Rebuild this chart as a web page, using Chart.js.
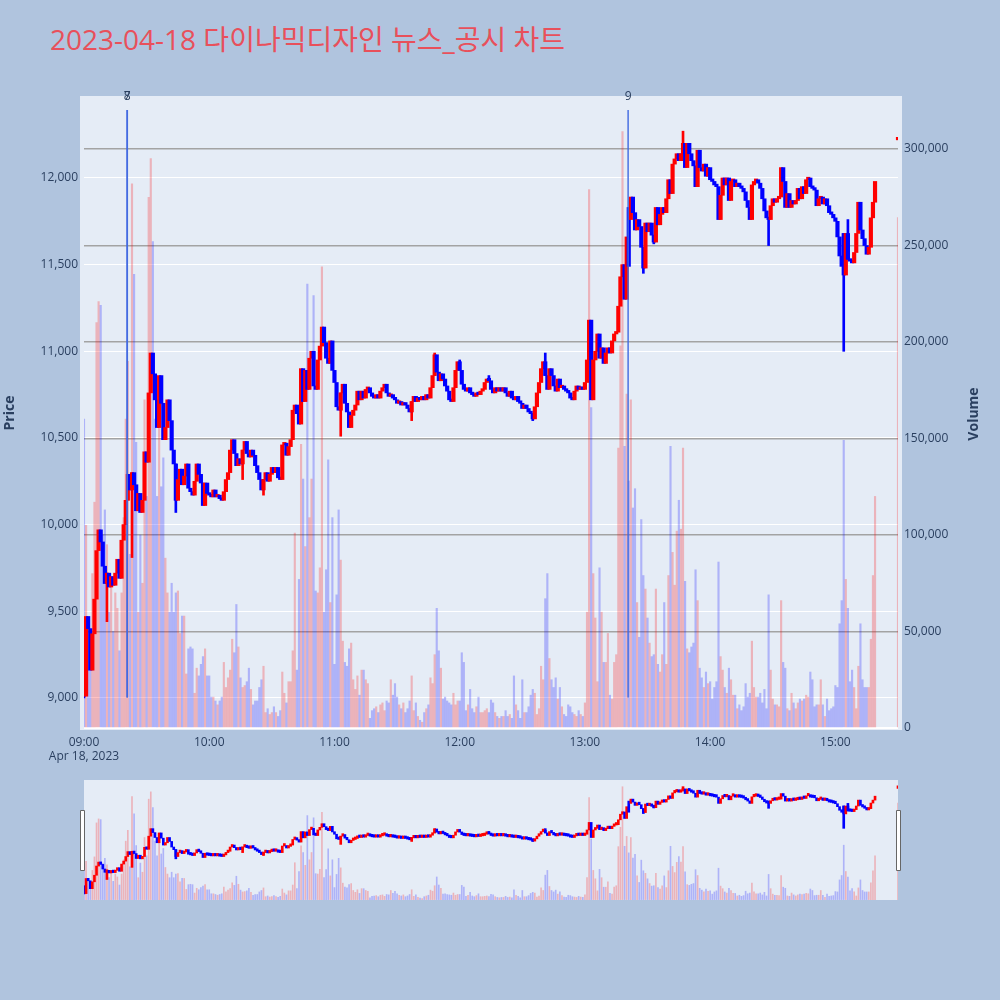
<!DOCTYPE html>
<html>
<head>
<meta charset="utf-8">
<script src="https://cdn.jsdelivr.net/npm/chart.js"></script>
<style>
  body { margin: 0; background: #b0c4de; }
  #wrap { position: relative; width: 1000px; height: 1000px; }
  #title { position: absolute; left: 50px; top: 18px; font-family: 'Open Sans', 'Noto Sans CJK KR', sans-serif; font-size: 28px; color: #e8505b; white-space: nowrap; }
  canvas { position: absolute; left: 0; }
</style>
</head>
<body>
<div id="wrap">
  <div id="title">2023-04-18 다이나믹디자인 뉴스_공시 차트</div>
  <canvas id="main" width="1000" height="780" style="top:0"></canvas>
  <canvas id="slider" width="1000" height="140" style="top:770px"></canvas>
</div>
<script>
// 1-minute candles, index = minutes after 09:00
const opens = [
  9240, 9010, 9470, 9400, 9160, 9370, 9570, 9850, 9970, 9900,        // 09:00
  9760, 9660, 9720, 9640, 9700, 9650, 9720, 9800, 9690, 9910,
  10000, 10140, 10290, 10200, 10300, 10230, 10080, 10180, 10070, 10140,
  10420, 10360, 10760, 10990, 10870, 10720, 10560, 10860, 10700, 10490,
  10560, 10720, 10600, 10430, 10350, 10140, 10260, 10320, 10230, 10280,
  10350, 10210, 10190, 10170, 10250, 10350, 10290, 10240, 10110, 10240,
  10180, 10170, 10160, 10200, 10160, 10170, 10150, 10140, 10190, 10260, // 10:00
  10300, 10430, 10490, 10410, 10340, 10380, 10350, 10430, 10480, 10410,
  10390, 10430, 10400, 10340, 10300, 10260, 10200, 10260, 10300, 10250,
  10290, 10330, 10300, 10330, 10270, 10260, 10460, 10470, 10400, 10450,
  10490, 10660, 10690, 10640, 10580, 10900, 10710, 10890, 10780, 10960,
  11000, 10800, 10780, 10950, 11030, 11140, 11050, 10960, 10930, 11060,
  10890, 10820, 10680, 10660, 10760, 10810, 10700, 10650, 10560, 10630, // 11:00
  10660, 10690, 10770, 10720, 10770, 10730, 10780, 10790, 10760, 10740,
  10730, 10750, 10730, 10770, 10790, 10810, 10760, 10740, 10750, 10730,
  10720, 10700, 10710, 10690, 10700, 10690, 10670, 10650, 10710, 10740,
  10710, 10730, 10720, 10740, 10720, 10750, 10730, 10790, 10860, 10980,
  10880, 10830, 10870, 10840, 10800, 10770, 10720, 10710, 10790, 10890,
  10940, 10890, 10810, 10780, 10770, 10790, 10760, 10750, 10740, 10760, // 12:00
  10750, 10770, 10780, 10820, 10840, 10830, 10780, 10760, 10790, 10770,
  10790, 10770, 10790, 10760, 10740, 10770, 10730, 10720, 10740, 10710,
  10700, 10670, 10690, 10670, 10650, 10640, 10610, 10680, 10760, 10820,
  10900, 10940, 10860, 10780, 10900, 10860, 10800, 10770, 10840, 10790,
  10800, 10780, 10770, 10760, 10730, 10720, 10770, 10800, 10780, 10790,
  10780, 10820, 10950, 11180, 10720, 10950, 11000, 11100, 10960, 11020, // 13:00
  10930, 10990, 11020, 10990, 11060, 11100, 11110, 11260, 11430, 11500,
  11300, 11830, 11760, 11890, 11800, 11700, 11760, 11720, 11600, 11480,
  11740, 11690, 11740, 11670, 11630, 11830, 11730, 11790, 11830, 11800,
  11880, 11990, 11910, 12080, 12110, 12140, 12100, 12140, 12200, 12060,
  12200, 12140, 12100, 12070, 11950, 12160, 12060, 12040, 12080, 12010,
  12060, 11990, 11980, 11960, 11950, 11760, 11900, 12000, 11960, 12000, // 14:00
  11870, 11980, 11990, 11950, 11970, 11950, 11940, 11920, 11870, 11830,
  11760, 11960, 11980, 11990, 11970, 11940, 11880, 11810, 11770, 11760,
  11840, 11880, 11860, 11880, 11890, 12060, 11980, 11830, 11910, 11830,
  11870, 11850, 11870, 11940, 11880, 11950, 11910, 11990, 12000, 11950,
  11940, 11930, 11840, 11880, 11890, 11850, 11880, 11840, 11800, 11790,
  11770, 11750, 11660, 11550, 11680, 11440, 11680, 11530, 11520, 11510, // 15:00
  11570, 11680, 11860, 11700, 11650, 11610, 11560, 11600, 11770, 11860
];
const closes = [
  9010, 9470, 9400, 9160, 9370, 9570, 9850, 9970, 9900, 9760,
  9660, 9720, 9640, 9700, 9650, 9720, 9800, 9690, 9910, 10000,
  10140, 10290, 10200, 10300, 10230, 10080, 10180, 10070, 10140, 10420,
  10360, 10760, 10990, 10870, 10720, 10560, 10860, 10700, 10490, 10560,
  10720, 10600, 10430, 10350, 10140, 10260, 10320, 10230, 10280, 10350,
  10210, 10190, 10170, 10250, 10350, 10290, 10240, 10110, 10240, 10180,
  10170, 10160, 10200, 10160, 10170, 10150, 10140, 10190, 10260, 10300,
  10430, 10490, 10410, 10340, 10380, 10350, 10430, 10480, 10410, 10390,
  10430, 10400, 10340, 10300, 10260, 10200, 10260, 10300, 10250, 10290,
  10330, 10300, 10330, 10270, 10260, 10460, 10470, 10400, 10450, 10490,
  10660, 10690, 10640, 10580, 10900, 10710, 10890, 10780, 10960, 11000,
  10800, 10780, 10950, 11030, 11140, 11050, 10960, 10930, 11060, 10890,
  10820, 10680, 10660, 10760, 10810, 10700, 10650, 10560, 10630, 10660,
  10690, 10770, 10720, 10770, 10730, 10780, 10790, 10760, 10740, 10730,
  10750, 10730, 10770, 10790, 10810, 10760, 10740, 10750, 10730, 10720,
  10700, 10710, 10690, 10700, 10690, 10670, 10650, 10710, 10740, 10710,
  10730, 10720, 10740, 10720, 10750, 10730, 10790, 10860, 10980, 10880,
  10830, 10870, 10840, 10800, 10770, 10720, 10710, 10790, 10890, 10940,
  10890, 10810, 10780, 10770, 10790, 10760, 10750, 10740, 10760, 10750,
  10770, 10780, 10820, 10840, 10830, 10780, 10760, 10790, 10770, 10790,
  10770, 10790, 10760, 10740, 10770, 10730, 10720, 10740, 10710, 10700,
  10670, 10690, 10670, 10650, 10640, 10610, 10680, 10760, 10820, 10900,
  10940, 10860, 10780, 10900, 10860, 10800, 10770, 10840, 10790, 10800,
  10780, 10770, 10760, 10730, 10720, 10770, 10800, 10780, 10790, 10780,
  10820, 10950, 11180, 10720, 10950, 11000, 11100, 10960, 11020, 10930,
  10990, 11020, 10990, 11060, 11100, 11110, 11260, 11430, 11500, 11300,
  11660, 11490, 11890, 11800, 11700, 11760, 11720, 11600, 11480, 11740,
  11690, 11740, 11670, 11630, 11830, 11730, 11790, 11830, 11800, 11880,
  11990, 11910, 12080, 12110, 12140, 12100, 12140, 12200, 12060, 12200,
  12140, 12100, 12070, 11950, 12160, 12060, 12040, 12080, 12010, 12060,
  11990, 11980, 11960, 11950, 11760, 11900, 12000, 11960, 12000, 11870,
  11980, 11990, 11950, 11970, 11950, 11940, 11920, 11870, 11830, 11760,
  11960, 11980, 11990, 11970, 11940, 11880, 11810, 11770, 11760, 11840,
  11880, 11860, 11880, 11890, 12060, 11980, 11830, 11910, 11830, 11870,
  11850, 11870, 11940, 11880, 11950, 11910, 11990, 12000, 11950, 11940,
  11930, 11840, 11880, 11890, 11850, 11880, 11840, 11800, 11790, 11770,
  11750, 11660, 11550, 11490, 11440, 11680, 11530, 11520, 11510, 11570,
  11680, 11860, 11700, 11650, 11610, 11560, 11600, 11770, 11860, 11980
];
const volumes = [
  160000, 105000, 55000, 40000, 80000, 117000, 210000, 221000, 219000, 100000,
  113000, 95000, 60000, 75000, 50000, 70000, 62000, 40000, 70000, 109000,
  160000, 190000, 90000, 282000, 235000, 148000, 60000, 100000, 75000, 170000,
  120000, 275000, 295000, 252000, 160000, 120000, 165000, 125000, 140000, 88000,
  70000, 60000, 75000, 60000, 70000, 71000, 49000, 58000, 58000, 28000,
  41000, 42000, 41000, 18000, 31000, 27000, 33000, 37000, 41000, 27000,
  27000, 16000, 16000, 14000, 12000, 14000, 16000, 34000, 21000, 26000,
  30000, 46000, 39000, 64000, 42000, 26000, 21000, 22000, 24000, 31000,
  20000, 12000, 14000, 14000, 21000, 25000, 32000, 8000, 10000, 7000,
  8000, 11000, 8000, 6000, 9000, 29000, 18000, 13000, 24000, 24000,
  40000, 101000, 30000, 77000, 147000, 129000, 94000, 230000, 109000, 129000,
  224000, 71000, 70000, 83000, 239000, 60000, 82000, 139000, 65000, 109000,
  33000, 69000, 113000, 87000, 45000, 34000, 32000, 41000, 44000, 25000,
  20000, 27000, 17000, 30000, 30000, 25000, 23000, 5000, 9000, 10000,
  11000, 8000, 12000, 13000, 9000, 14000, 13000, 25000, 17000, 23000,
  16000, 12000, 10000, 13000, 8000, 10000, 14000, 27000, 9000, 13000,
  6000, 4000, 3000, 8000, 10000, 12000, 26000, 23000, 38000, 62000,
  40000, 31000, 15000, 16000, 14000, 13000, 12000, 18000, 12000, 14000,
  14000, 39000, 34000, 9000, 12000, 20000, 10000, 8000, 11000, 16000,
  8000, 8000, 9000, 10000, 8000, 14500, 13000, 8000, 6000, 5000,
  6000, 6000, 9000, 6000, 7000, 5000, 27000, 12000, 9000, 5000,
  25000, 8000, 8000, 11000, 17000, 20000, 18000, 7000, 10000, 32000,
  25000, 67000, 80000, 36000, 25000, 21000, 26000, 15000, 21000, 11000,
  7000, 6000, 12000, 11000, 8000, 7000, 6000, 9000, 7000, 6000,
  13000, 60000, 279000, 166000, 80000, 57000, 24000, 83000, 60000, 34000,
  34000, 49000, 17000, 15000, 34000, 38000, 145000, 198000, 309000, 146000,
  173000, 128000, 170000, 114000, 124000, 65000, 47000, 108000, 79000, 72000,
  57000, 44000, 37000, 38000, 72000, 33000, 29000, 38000, 65000, 33000,
  79000, 146000, 91000, 74000, 102000, 118000, 103000, 145000, 76000, 41000,
  39000, 42000, 44000, 82000, 66000, 31000, 26000, 21000, 29000, 23000,
  24000, 15000, 21000, 24000, 86000, 37000, 30000, 21000, 18000, 31000,
  25000, 17000, 17000, 10000, 12000, 9000, 11000, 23000, 16000, 18000,
  45000, 21000, 16000, 16000, 18000, 13000, 20000, 10000, 69000, 30000,
  15000, 12000, 12000, 11000, 66000, 34000, 31000, 10000, 9000, 18000,
  13000, 10000, 13000, 15000, 14000, 15000, 17000, 16000, 29000, 25000,
  11000, 12000, 12000, 25000, 12000, 6000, 15000, 9000, 10000, 11000,
  22000, 21000, 54000, 66000, 149000, 77000, 62000, 24000, 30000, 21000,
  10000, 32000, 54000, 25000, 21000, 21000, 21000, 46000, 79000, 120000
];
// candles with visible shadows beyond the body
const wickMinutes = [0, 11, 23, 44, 76, 86, 123, 157, 168, 180, 194, 215, 221, 268, 273, 287, 328, 364, 366];
const wickLows  = [9000, 9440, 9810, 10070, 10260, 10170, 10510, 10600, 10860, 10890, 10830, 10600, 10860, 11450, 11620, 12140, 11610, 11000, 11530];
const wickHighs = [9250, 9720, 10300, 10350, 10430, 10260, 10760, 10710, 10990, 10950, 10860, 10640, 10990, 11600, 11670, 12270, 11770, 11680, 11760];
// 15:30 closing auction
const auctionMinutes = [390];
const auctionOpens = [12220];
const auctionCloses = [12230];
const auctionVolumes = [264500];
// news / disclosure markers
const newsMinutes = [20.7, 20.7, 260.7];
const newsLabels = ['7', '8', '9'];
const newsLineRange = [9005, 12390];

const timeTicks = [0, 60, 120, 180, 240, 300, 360];
const timeLabels = ['09:00', '10:00', '11:00', '12:00', '13:00', '14:00', '15:00'];
const priceTicks = [9000, 9500, 10000, 10500, 11000, 11500, 12000];
const volumeTicks = [0, 50000, 100000, 150000, 200000, 250000, 300000];

const UP = '#ff0000', DOWN = '#0000ff';
const UP_VOL = 'rgba(255,0,0,0.24)', DOWN_VOL = 'rgba(0,0,255,0.24)';
const FONT_COLOR = '#2a3f5f';
Chart.defaults.font.family = "'Open Sans', sans-serif";
Chart.defaults.font.size = 12;
Chart.defaults.color = FONT_COLOR;

const allMinutes = opens.map((_, i) => i).concat(auctionMinutes);
const allOpens = opens.concat(auctionOpens);
const allCloses = closes.concat(auctionCloses);
const allVolumes = volumes.concat(auctionVolumes);
const isUp = allMinutes.map((_, i) => allCloses[i] >= allOpens[i]);

function buildDatasets(bodyWidth, volWidth, withNews) {
  const sets = [
    {
      label: 'Volume', yAxisID: 'yv', order: 3, grouped: false,
      data: allMinutes.map((m, i) => ({ x: m, y: allVolumes[i] })),
      backgroundColor: isUp.map(u => u ? UP_VOL : DOWN_VOL),
      barThickness: volWidth
    },
    {
      label: 'Wick', yAxisID: 'y', order: 2, grouped: false,
      data: wickMinutes.map((m, i) => ({ x: m, y: [wickLows[i], wickHighs[i]] })),
      backgroundColor: wickMinutes.map(m => isUp[m] ? UP : DOWN),
      barThickness: 2
    },
    {
      label: 'Price', yAxisID: 'y', order: 1, grouped: false,
      data: allMinutes.map((m, i) => ({ x: m, y: [allOpens[i], allCloses[i]] })),
      backgroundColor: isUp.map(u => u ? UP : DOWN),
      barThickness: bodyWidth, minBarLength: 2.5
    }
  ];
  if (withNews) {
    sets.push({
      label: 'News', yAxisID: 'y', order: 0, grouped: false,
      data: newsMinutes.map(m => ({ x: m, y: newsLineRange })),
      backgroundColor: 'rgba(65,105,225,0.85)',
      barThickness: 1
    });
  }
  return sets;
}

const fixTicks = list => axis => { axis.ticks = list.map(v => ({ value: v })); };

const plotBg = {
  id: 'plotBg',
  beforeDraw(chart, args, opts) {
    const { ctx } = chart;
    ctx.save();
    ctx.fillStyle = '#e5ecf6';
    ctx.fillRect(opts.x0, opts.y0, opts.x1 - opts.x0, opts.y1 - opts.y0);
    ctx.restore();
  }
};

const mainLabels = {
  id: 'mainLabels',
  afterDraw(chart) {
    const { ctx } = chart;
    const xs = chart.scales.x;
    ctx.save();
    ctx.fillStyle = FONT_COLOR;
    ctx.font = "12px 'Open Sans', sans-serif";
    ctx.textAlign = 'center';
    ctx.textBaseline = 'middle';
    newsMinutes.forEach((m, i) => ctx.fillText(newsLabels[i], xs.getPixelForValue(m), 97));
    ctx.font = "bold 14px 'Open Sans', sans-serif";
    ctx.translate(974, 414);
    ctx.rotate(-Math.PI / 2);
    ctx.fillText('Volume', 0, 0);
    ctx.restore();
  }
};

new Chart(document.getElementById('main'), {
  type: 'bar',
  data: { datasets: buildDatasets(3.5, 1.5, true) },
  options: {
    responsive: false, animation: false, devicePixelRatio: 1,
    layout: { padding: { top: 96, left: 0, right: 0, bottom: 0 } },
    plugins: {
      legend: { display: false }, tooltip: { enabled: false },
      plotBg: { x0: 80, y0: 96, x1: 902, y1: 730 }
    },
    scales: {
      x: {
        type: 'linear', min: 0, max: 390, offset: false,
        grid: { display: false, drawTicks: false, offset: false }, border: { display: false },
        afterBuildTicks: fixTicks(timeTicks),
        afterFit: s => { s.height = 50; },
        ticks: {
          padding: 5, maxRotation: 0, autoSkip: false,
          callback: v => {
            const k = timeTicks.indexOf(v);
            return k === 0 ? [timeLabels[0], 'Apr 18, 2023'] : timeLabels[k];
          }
        }
      },
      y: {
        position: 'left', min: 8815, max: 12473,
        grid: { color: '#ffffff', lineWidth: 1, drawTicks: false }, border: { display: false },
        afterBuildTicks: fixTicks(priceTicks),
        afterFit: s => { s.width = 84; },
        ticks: { padding: 6, callback: v => v.toLocaleString('en-US') },
        title: { display: true, text: 'Price', font: { size: 14, weight: 'bold' }, padding: { top: 2, bottom: 0 } }
      },
      yv: {
        position: 'right', min: -1036, max: 327460,
        grid: {
          drawTicks: false,
          color: c => c.tick && c.tick.value === 0 ? '#ffffff' : '#a3a3a3',
          lineWidth: c => c.tick && c.tick.value === 0 ? 2 : 1.5
        },
        border: { display: false },
        afterBuildTicks: fixTicks(volumeTicks),
        afterFit: s => { s.width = 102; },
        ticks: { padding: 6, callback: v => v.toLocaleString('en-US') }
      }
    }
  },
  plugins: [plotBg, mainLabels]
});

const sliderDecor = {
  id: 'sliderDecor',
  afterDraw(chart) {
    const { ctx } = chart;
    const a = chart.chartArea;
    ctx.save();
    ctx.fillStyle = '#ffffff';
    ctx.strokeStyle = '#666666';
    ctx.lineWidth = 1;
    [a.left - 3.5, a.right - 1.5].forEach(x => {
      ctx.beginPath();
      ctx.rect(x, a.top + 30.5, 4, 60);
      ctx.fill();
      ctx.stroke();
    });
    ctx.restore();
  }
};

new Chart(document.getElementById('slider'), {
  type: 'bar',
  data: { datasets: buildDatasets(2, 1, false) },
  options: {
    responsive: false, animation: false, devicePixelRatio: 1,
    layout: { padding: { top: 10, left: 84, right: 102, bottom: 10 } },
    plugins: {
      legend: { display: false }, tooltip: { enabled: false },
      plotBg: { x0: 84, y0: 10, x1: 898, y1: 130 }
    },
    scales: {
      x: { type: 'linear', min: 0, max: 390, offset: false, display: false },
      y: { min: 8815, max: 12473, display: false },
      yv: { min: -1036, max: 327460, display: false }
    }
  },
  plugins: [plotBg, sliderDecor]
});
</script>
</body>
</html>
